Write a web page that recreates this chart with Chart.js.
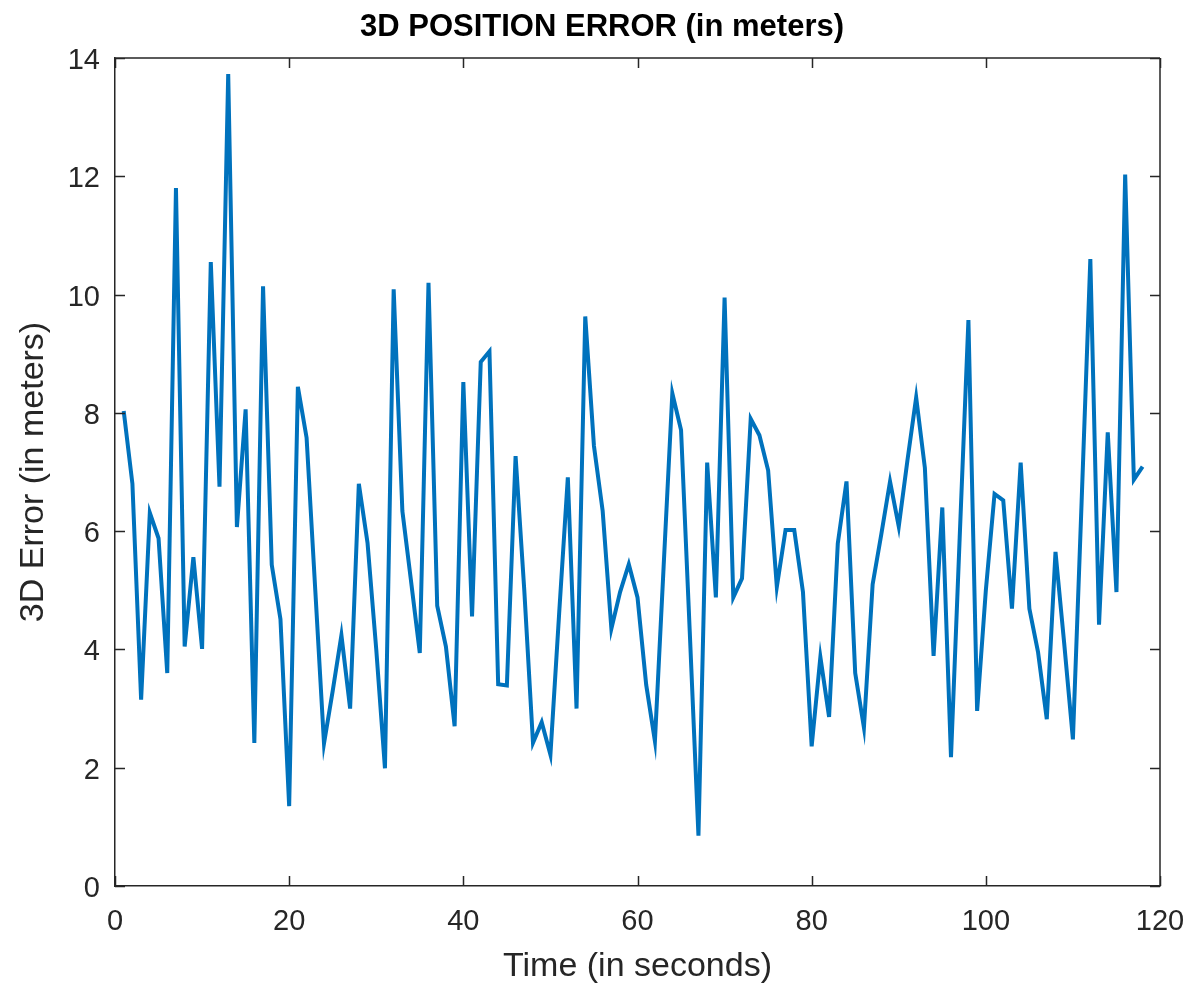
<!DOCTYPE html>
<html>
<head>
<meta charset="utf-8">
<script src="https://cdn.jsdelivr.net/npm/chart.js@4.4.1/dist/chart.umd.min.js"></script>
<style>
html,body{margin:0;padding:0;background:#ffffff;}
#wrap{width:1192px;height:989px;position:relative;}
</style>
</head>
<body>
<div id="wrap"><canvas id="c" width="1192" height="989"></canvas></div>
<script>
const chartTitle = '3D POSITION ERROR (in meters)';
const xAxisLabel = 'Time (in seconds)';
const yAxisLabel = '3D Error (in meters)';

const timeSeconds = [
  1,2,3,4,5,6,7,8,9,10,11,12,13,14,15,16,17,18,19,20,
  21,22,23,24,25,26,27,28,29,30,31,32,33,34,35,36,37,38,39,40,
  41,42,43,44,45,46,47,48,49,50,51,52,53,54,55,56,57,58,59,60,
  61,62,63,64,65,66,67,68,69,70,71,72,73,74,75,76,77,78,79,80,
  81,82,83,84,85,86,87,88,89,90,91,92,93,94,95,96,97,98,99,100,
  101,102,103,104,105,106,107,108,109,110,111,112,113,114,115,116,117,118
];

const errorMeters = [
  8.03,6.80,3.15,6.31,5.88,3.60,11.80,4.05,5.56,4.01,10.55,6.75,13.73,6.07,8.06,2.42,10.14,5.43,4.51,1.35,
  8.44,7.58,5.00,2.41,3.30,4.24,3.00,6.80,5.80,4.00,1.99,10.09,6.34,5.15,3.94,10.20,4.74,4.05,2.70,8.52,
  4.56,8.86,9.04,3.41,3.39,7.27,5.00,2.42,2.77,2.22,4.60,6.91,3.00,9.63,7.44,6.34,4.35,4.97,5.44,4.88,
  3.40,2.45,5.40,8.33,7.71,4.30,0.85,7.16,4.88,9.95,4.88,5.20,7.90,7.62,7.03,5.06,6.02,6.02,4.97,2.36,
  3.87,2.86,5.79,6.84,3.60,2.68,5.10,5.95,6.84,6.08,7.20,8.26,7.07,3.89,6.40,2.18,5.90,9.57,2.96,5.00,
  6.63,6.52,4.69,7.16,4.69,3.95,2.82,5.65,4.10,2.48,6.50,10.60,4.42,7.67,4.97,12.03,6.87,7.09
];

const xTickValues = [0,20,40,60,80,100,120];
const yTickValues = [0,2,4,6,8,10,12,14];

const FONT = "'Liberation Sans', Arial, Helvetica, sans-serif";
const AXIS_COLOR = '#262626';

const points = timeSeconds.map((t, i) => ({x: t, y: errorMeters[i]}));

const boxTicks = {
  id: 'boxTicks',
  afterDraw(chart) {
    const {ctx, chartArea: a, scales: {x, y}} = chart;
    const len = 10;
    ctx.save();
    ctx.strokeStyle = AXIS_COLOR;
    ctx.lineWidth = 1.5;
    ctx.beginPath();
    ctx.moveTo(a.left, a.top); ctx.lineTo(a.right, a.top);
    ctx.moveTo(a.right, a.top); ctx.lineTo(a.right, a.bottom);
    x.ticks.forEach(tk => {
      const px = Math.round(x.getPixelForValue(tk.value)) + 0.5;
      ctx.moveTo(px, a.bottom); ctx.lineTo(px, a.bottom - len);
      ctx.moveTo(px, a.top); ctx.lineTo(px, a.top + len);
    });
    y.ticks.forEach(tk => {
      const py = Math.round(y.getPixelForValue(tk.value)) + 0.5;
      ctx.moveTo(a.left, py); ctx.lineTo(a.left + len, py);
      ctx.moveTo(a.right, py); ctx.lineTo(a.right - len, py);
    });
    ctx.stroke();
    // title
    ctx.fillStyle = '#000000';
    ctx.font = "bold 31px " + FONT;
    ctx.textAlign = 'center';
    ctx.textBaseline = 'middle';
    ctx.fillText(chartTitle, 602, 27);
    ctx.restore();
  }
};

new Chart(document.getElementById('c'), {
  type: 'line',
  data: {
    datasets: [{
      data: points,
      borderColor: '#0072BD',
      borderWidth: 4,
      pointRadius: 0,
      pointHoverRadius: 0,
      tension: 0,
      fill: false
    }]
  },
  options: {
    responsive: false,
    animation: false,
    devicePixelRatio: 1,
    events: [],
    layout: {padding: {left: 0, right: 32, top: 58, bottom: 0}},
    plugins: {
      legend: {display: false},
      tooltip: {enabled: false},
      title: {display: false}
    },
    scales: {
      x: {
        type: 'linear',
        min: 0, max: 120,
        afterFit(s) { s.height = 103; s.paddingLeft = 0; s.paddingRight = 0; },
        afterBuildTicks(s) { s.ticks = xTickValues.map(v => ({value: v})); },
        grid: {display: false, drawTicks: false},
        border: {display: true, color: AXIS_COLOR, width: 1.5},
        ticks: {
          color: AXIS_COLOR,
          font: {family: FONT, size: 29},
          padding: 19,
          maxRotation: 0,
          autoSkip: false
        },
        title: {
          display: true,
          text: xAxisLabel,
          color: AXIS_COLOR,
          font: {family: FONT, size: 34},
          padding: {top: 0, bottom: 2}
        }
      },
      y: {
        type: 'linear',
        min: 0, max: 14,
        afterFit(s) { s.width = 115; s.paddingTop = 0; s.paddingBottom = 0; },
        afterBuildTicks(s) { s.ticks = yTickValues.map(v => ({value: v})); },
        grid: {display: false, drawTicks: false},
        border: {display: true, color: AXIS_COLOR, width: 1.5},
        ticks: {
          color: AXIS_COLOR,
          font: {family: FONT, size: 29},
          padding: 15,
          labelOffset: 3
        },
        title: {
          display: true,
          text: yAxisLabel,
          color: AXIS_COLOR,
          font: {family: FONT, size: 34},
          padding: {top: 13, bottom: 0}
        }
      }
    }
  },
  plugins: [boxTicks]
});
</script>
</body>
</html>
